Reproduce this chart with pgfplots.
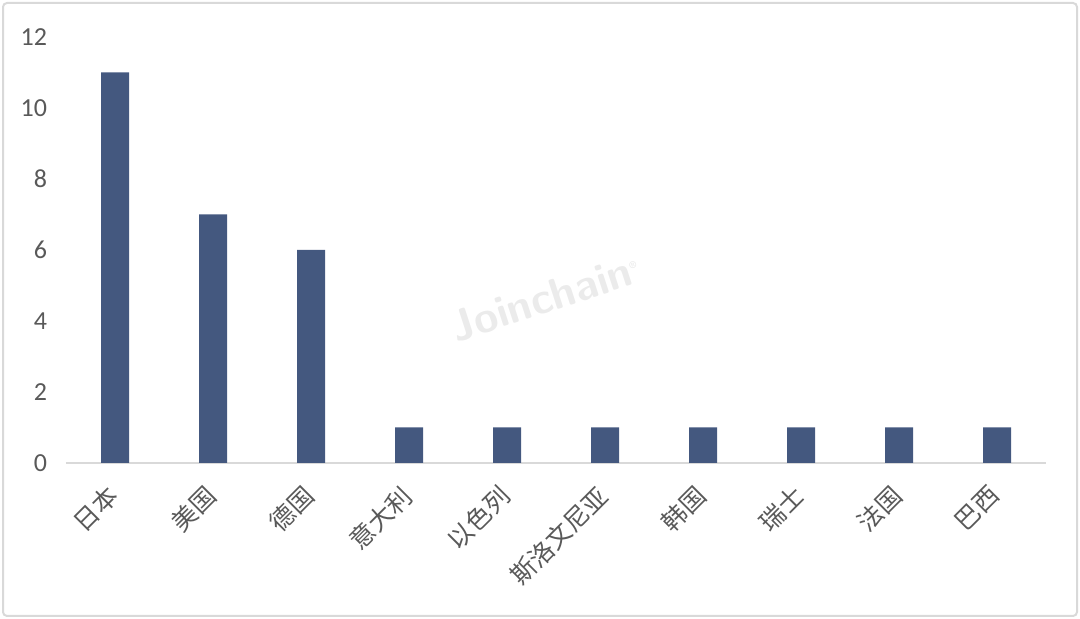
\documentclass[border=0pt]{standalone}
\usepackage{pgfplots}
\pgfplotsset{compat=1.18}
\usepackage{fontspec}
\setmainfont{Carlito}
\newfontfamily\cjk{Noto Sans CJK SC}
\definecolor{barc}{HTML}{44587F}
\definecolor{txt}{HTML}{595959}
\definecolor{axc}{HTML}{D9D9D9}
\begin{document}
\begin{tikzpicture}[x=0.5pt,y=0.5pt]
\useasboundingbox (0,0) rectangle (1080,619);
\draw[axc,line width=1pt,rounded corners=2pt] (3,3) rectangle (1077,616);
\node[rotate=18,text=black!8,font=\sffamily\bfseries\fontsize{22}{24}\selectfont] at (545,321) {Joinchain\textsuperscript{\tiny®}};
\begin{axis}[
  at={(66*0.5pt,156*0.5pt)}, anchor=south west,
  scale only axis, width=490pt, height=213pt,
  xmin=-0.5, xmax=9.5, ymin=0, ymax=12,
  ytick={0,2,...,12},
  xtick={0,...,9},
  xticklabels={日本,美国,德国,意大利,以色列,斯洛文尼亚,韩国,瑞士,法国,巴西},
  xticklabel style={font=\cjk\fontsize{12.5}{14}\selectfont, text=txt, xshift=-5pt, yshift=-8.5pt, rotate=45, anchor=north east, inner sep=1pt},
  yticklabel style={font=\fontsize{13}{15}\selectfont, text=txt},
  /pgf/number format/assume math mode=true,
  axis y line*=left,
  y axis line style={draw=none},
  axis x line*=bottom,
  x axis line style={axc, line width=1pt, -},
  major tick length=0pt,
  y tick label style={xshift=-6pt},
  bar width=14pt,
  clip=false,
]
\addplot[ybar, fill=barc, draw=none] coordinates {(0,11) (1,7) (2,6) (3,1) (4,1) (5,1) (6,1) (7,1) (8,1) (9,1)};
\end{axis}
\end{tikzpicture}
\end{document}
